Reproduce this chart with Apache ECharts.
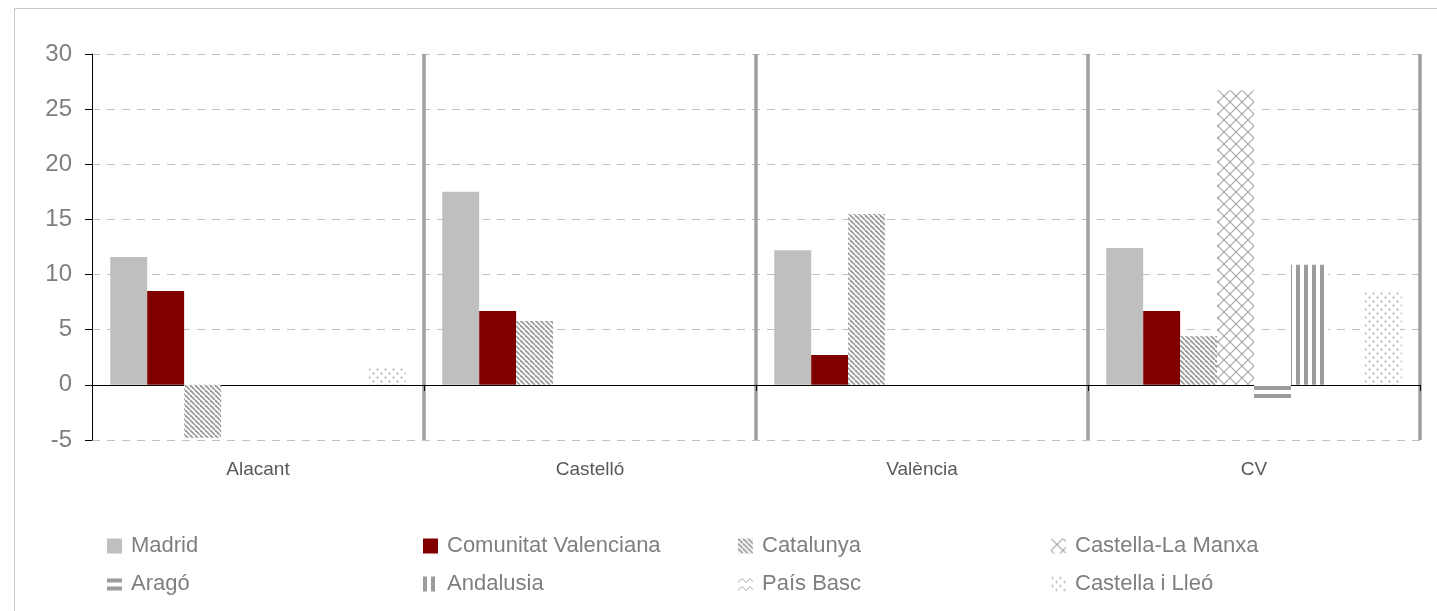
<!DOCTYPE html>
<html>
<head>
<meta charset="utf-8">
<script src="https://cdn.jsdelivr.net/npm/echarts@6/dist/echarts.min.js"></script>
<style>
html,body{margin:0;padding:0;background:#fff;}
#c{width:1437px;height:611px;}
</style>
</head>
<body>
<div id="c"></div>
<script>
// ---- data ----
const categories = ['Alacant', 'Castelló', 'València', 'CV'];
const seriesNames = ['Madrid', 'Comunitat Valenciana', 'Catalunya', 'Castella-La Manxa', 'Aragó', 'Andalusia', 'País Basc', 'Castella i Lleó'];
const madrid = [11.6, 17.5, 12.2, 12.4];
const comunitatValenciana = [8.5, 6.7, 2.7, 6.7];
const catalunya = [-4.8, 5.8, 15.5, 4.4];
const castellaLaManxa = [null, null, null, 26.7];
const arago = [null, null, null, -1.5];
const andalusia = [null, null, null, 10.9];
const paisBasc = [null, null, null, null];
const castellaILleo = [1.5, null, null, 8.4];
const yTicks = { min: -5, max: 30, interval: 5 };

// ---- patterns ----
function mk(w, h, draw) {
  const c = document.createElement('canvas');
  c.width = w; c.height = h;
  const g = c.getContext('2d');
  g.fillStyle = '#fff'; g.fillRect(0, 0, w, h);
  draw(g, w, h);
  return { image: c, repeat: 'repeat' };
}
const diag = mk(5, 5, (g, w, h) => {
  g.strokeStyle = '#9a9a9a'; g.lineWidth = 1.8;
  for (let k = -1; k <= 1; k++) {
    g.beginPath(); g.moveTo(k * w, 0); g.lineTo(k * w + w, h); g.stroke();
  }
});
const cross = mk(12, 12, (g, w, h) => {
  g.strokeStyle = '#a8a8a8'; g.lineWidth = 1.2;
  g.beginPath(); g.moveTo(0, 0); g.lineTo(w, h); g.stroke();
  g.beginPath(); g.moveTo(w, 0); g.lineTo(0, h); g.stroke();
});
const zig = mk(8, 8, (g) => {
  g.strokeStyle = '#a8a8a8'; g.lineWidth = 1;
  g.beginPath(); g.moveTo(0, 6); g.lineTo(4, 2); g.lineTo(8, 6); g.stroke();
});
const horiz = mk(8, 8, (g) => { g.fillStyle = '#9c9c9c'; g.fillRect(0, 2, 8, 4); });
const vert = mk(8, 8, (g) => { g.fillStyle = '#9c9c9c'; g.fillRect(0, 0, 4, 8); });
const dots = mk(8, 8, (g) => {
  g.fillStyle = '#a8a8a8';
  g.beginPath(); g.arc(1.5, 1.5, 1, 0, Math.PI * 2); g.fill();
  g.beginPath(); g.arc(5.5, 5.5, 1, 0, Math.PI * 2); g.fill();
});

const colors = ['#bfbfbf', '#800000', diag, cross, horiz, vert, zig, dots];
const dataSets = [madrid, comunitatValenciana, catalunya, castellaLaManxa, arago, andalusia, paisBasc, castellaILleo];

const chart = echarts.init(document.getElementById('c'), null, { renderer: 'canvas' });
const font = 'Liberation Sans, Arial, sans-serif';
const legendCols = [[0, 4], [1, 5], [2, 6], [3, 7]];
const legendLeft = [107, 423, 738, 1051];

const option = {
  animation: false,
  backgroundColor: '#fff',
  graphic: [{
    type: 'rect', left: 12, top: 6, silent: true,
    shape: { width: 1440, height: 620 },
    style: { fill: 'none', stroke: '#c8c8c8', lineWidth: 1 }
  }],
  grid: { left: 92, right: 17, top: 54, bottom: 171, containLabel: false },
  legend: legendCols.map((pair, i) => ({
    data: pair.map(k => ({ name: seriesNames[k], icon: 'rect' })),
    orient: 'vertical',
    left: legendLeft[i],
    top: 535,
    padding: 0,
    itemWidth: 15, itemHeight: 15,
    itemGap: 16,
    selectedMode: false,
    textStyle: { fontFamily: font, fontSize: 22, color: '#7f7f7f', lineHeight: 22, padding: [0, 0, 0, 4] }
  })),
  xAxis: {
    type: 'category',
    data: categories,
    axisLine: { onZero: true, lineStyle: { color: '#000', width: 1 } },
    axisTick: { show: true, length: 6, lineStyle: { color: '#000' } },
    axisLabel: { margin: 20, fontFamily: font, fontSize: 19, color: '#595959' },
    splitLine: {
      show: true,
      interval: function (index) { return index > 0; },
      lineStyle: { color: '#a0a0a0', width: 3.5 }
    }
  },
  yAxis: {
    type: 'value',
    min: yTicks.min, max: yTicks.max, interval: yTicks.interval,
    axisLine: { show: true, lineStyle: { color: '#000', width: 1 } },
    axisTick: { show: true, length: 7, lineStyle: { color: '#000' } },
    axisLabel: { margin: 20, fontFamily: font, fontSize: 24, color: '#7f7f7f' },
    splitLine: { show: true, lineStyle: { color: '#c0c0c0', type: [8, 7], width: 1 } }
  },
  series: seriesNames.map((name, i) => ({
    name: name,
    type: 'bar',
    data: dataSets[i],
    barGap: '0%',
    barCategoryGap: '11%',
    itemStyle: { color: colors[i] }
  }))
};
chart.setOption(option);
</script>
</body>
</html>
